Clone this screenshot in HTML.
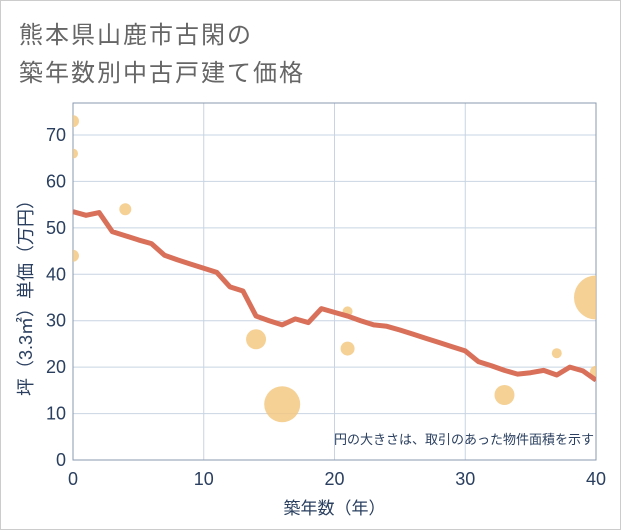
<!DOCTYPE html>
<html><head><meta charset="utf-8"><style>
body{margin:0;background:#fff;}
#wrap{position:relative;width:619px;height:528px;border:1px solid #ccc;background:#fff;font-family:"Liberation Sans","Noto Sans CJK JP",sans-serif;}
.t{position:absolute;left:18px;font-size:24px;color:#666;letter-spacing:2px;}
</style></head><body>
<div id="wrap">
<div class="t" style="top:14px">熊本県山鹿市古閑の</div>
<div class="t" style="top:52px">築年数別中古戸建て価格</div>
<svg id="svg" width="621" height="530" style="position:absolute;left:-1px;top:-1px"></svg>
</div>
<script>
const lineYears=[0,1,2,3,4,5,6,7,8,9,10,11,12,13,14,15,16,17,18,19,20,21,22,23,24,25,26,27,28,29,30,31,32,33,34,35,36,37,38,39,40];
const lineValues=[53.5,52.7,53.3,49.2,48.3,47.4,46.6,44.1,43.1,42.2,41.3,40.4,37.3,36.4,31,30,29.1,30.4,29.6,32.6,31.8,31,30,29.1,28.8,28,27.1,26.2,25.3,24.4,23.5,21.2,20.3,19.3,18.5,18.8,19.3,18.3,20,19.2,17.2];
const bubbleYears=[0,0,0,4,14,16,21,21,33,37,40,40];
const bubbleValues=[73,66,44,54,26,12,32,24,14,23,35,19];
const bubbleSizes=[6,5,6,6,10,18,5,7,10,5,22,6];
const xTicks=[0,10,20,30,40];
const yTicks=[0,10,20,30,40,50,60,70];
const X0=73,X1=596,Y0=460,Y1=103;
const xs=v=>X0+(v/40)*(X1-X0);
const ys=v=>Y0-(v/70)*(Y0-135);
const svg=document.getElementById('svg');
const NS='http://www.w3.org/2000/svg';
function mk(t,a){const e=document.createElementNS(NS,t);for(const k in a)e.setAttribute(k,a[k]);svg.appendChild(e);return e;}
const defs=mk('defs',{});
const cp=document.createElementNS(NS,'clipPath');cp.setAttribute('id','cp');defs.appendChild(cp);
const cr=document.createElementNS(NS,'rect');cr.setAttribute('x',X0);cr.setAttribute('y',Y1);cr.setAttribute('width',X1-X0);cr.setAttribute('height',Y0-Y1);cp.appendChild(cr);
xTicks.forEach(v=>{
 const g=mk('line',{x1:xs(v),x2:xs(v),y1:Y1,y2:Y0,stroke:'#c8d4e3','stroke-width':1});
 
 
 const t=mk('text',{x:xs(v),y:Y0+25,'text-anchor':'middle','font-size':18,fill:'#2a3f5f'});
 t.textContent=v;
 
 
});
yTicks.forEach(v=>{
 const g=mk('line',{x1:X0,x2:X1,y1:ys(v),y2:ys(v),stroke:'#c8d4e3','stroke-width':1});
 
 
 const t=mk('text',{x:X0-7,y:ys(v)+6,'text-anchor':'end','font-size':18,fill:'#2a3f5f'});
 t.textContent=v;
 
 
});
const fr=mk('rect',{x:X0,y:Y1,width:X1-X0,height:Y0-Y1,fill:'none',stroke:'#8a9ab0','stroke-width':1});


const bg=mk('g',{'clip-path':'url(#cp)'});
bubbleYears.forEach((y,i)=>{
 const c=document.createElementNS(NS,'circle');
 c.setAttribute('cx',xs(y));c.setAttribute('cy',ys(bubbleValues[i]));c.setAttribute('r',bubbleSizes[i]);
 c.setAttribute('fill','#f2c57c');c.setAttribute('fill-opacity','0.8');
 
 
 bg.appendChild(c);
});
const pts=lineYears.map((y,i)=>xs(y)+','+ys(lineValues[i])).join(' ');
const pl=mk('polyline',{points:pts,fill:'none',stroke:'#d9705a','stroke-width':5,'stroke-linejoin':'round','clip-path':'url(#cp)'});


const note=mk('text',{x:X1-2,y:444,'text-anchor':'end','font-size':13,fill:'#2a3f5f'});
note.textContent='円の大きさは、取引のあった物件面積を示す';


const xt=mk('text',{x:(X0+X1)/2,y:514,'text-anchor':'middle','font-size':17,fill:'#2a3f5f'});
xt.textContent='築年数（年）';


const yt=mk('text',{x:0,y:0,'text-anchor':'middle','font-size':18,fill:'#2a3f5f',transform:'translate(32,'+((Y0+Y1)/2+12)+') rotate(-90)'});
yt.textContent='坪（3.3㎡）単価（万円）';


</script>
</body></html>
